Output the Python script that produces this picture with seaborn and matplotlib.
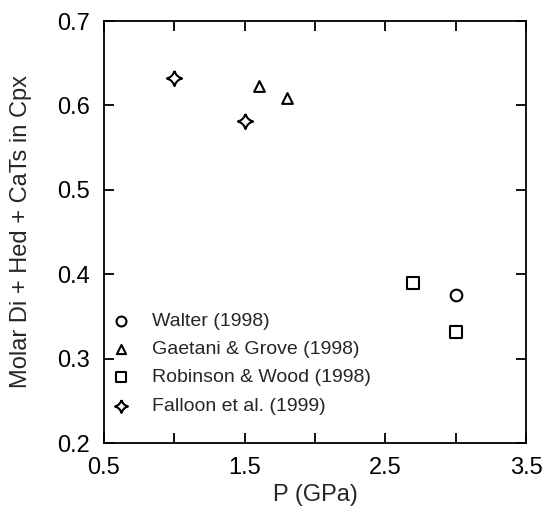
import numpy as np
import pandas as pd
import matplotlib
matplotlib.use("Agg")
import matplotlib.pyplot as plt
from matplotlib.path import Path
import seaborn as sns

studies = ["Walter (1998)", "Gaetani & Grove (1998)", "Robinson & Wood (1998)", "Falloon et al. (1999)"]
walter_p = [3.0]
walter_v = [0.375]
gaetani_p = [1.6, 1.8]
gaetani_v = [0.623, 0.609]
robinson_p = [2.7, 3.0]
robinson_v = [0.389, 0.331]
falloon_p = [1.0, 1.5]
falloon_v = [0.633, 0.581]

x_ticks = [0.5, 1.0, 1.5, 2.0, 2.5, 3.0, 3.5]
x_ticklabels = ["0.5", "", "1.5", "", "2.5", "", "3.5"]
y_ticks = [0.2, 0.3, 0.4, 0.5, 0.6, 0.7]
y_ticklabels = ["0.2", "0.3", "0.4", "0.5", "0.6", "0.7"]

rows = []
for s, ps, vs in zip(studies, [walter_p, gaetani_p, robinson_p, falloon_p],
                     [walter_v, gaetani_v, robinson_v, falloon_v]):
    for p, v in zip(ps, vs):
        rows.append({"P": p, "V": v, "Study": s})
df = pd.DataFrame(rows)

# four-pointed star with concave sides
c = 0.22
verts = [(0, 1), (c, c), (1, 0), (c, -c), (0, -1), (-c, -c), (-1, 0), (-c, c), (0, 1)]
codes = [Path.MOVETO] + [Path.CURVE3, Path.CURVE3] * 4
star = Path(verts, codes)

markers = {studies[0]: "o", studies[1]: "^", studies[2]: "s", studies[3]: star}
sizes = {studies[0]: 70, studies[1]: 60, studies[2]: 70, studies[3]: 120}

sns.set_style("ticks")
plt.rcParams["font.family"] = ["Liberation Sans", "DejaVu Sans"]

fig = plt.figure(figsize=(5.43, 5.13), dpi=100)
ax = fig.add_axes([104 / 543, 1 - 443 / 513, 422 / 543, 422 / 513])

for s in studies:
    sub = df[df["Study"] == s]
    sns.scatterplot(data=sub, x="P", y="V", marker=markers[s], s=sizes[s],
                    facecolor="white", edgecolor="black", linewidth=1.5,
                    ax=ax, label=s, zorder=3)

ax.set_xlim(0.5, 3.5)
ax.set_ylim(0.2, 0.7)
ax.set_xticks(x_ticks)
ax.set_yticks(y_ticks)
ax.set_xticklabels(x_ticklabels)
ax.set_yticklabels(y_ticklabels)
ax.tick_params(direction="in", length=7, width=1.3, labelsize=17, colors="black", pad=10,
               top=True, right=True)
for sp in ["left", "bottom", "top", "right"]:
    ax.spines[sp].set_visible(True)
    ax.spines[sp].set_linewidth(1.3)
    ax.spines[sp].set_color("black")
ax.set_xlabel("P (GPa)", fontsize=17, labelpad=4)
ax.set_ylabel("Molar Di + Hed + CaTs in Cpx", fontsize=17, labelpad=18)

leg = ax.legend(loc="lower left", bbox_to_anchor=(-0.03, 0.035), frameon=False,
                fontsize=14, handletextpad=0.8, labelspacing=0.55, markerscale=0.85,
                borderaxespad=0.3, handlelength=1.6)

fig.savefig("out.png", dpi=100)
